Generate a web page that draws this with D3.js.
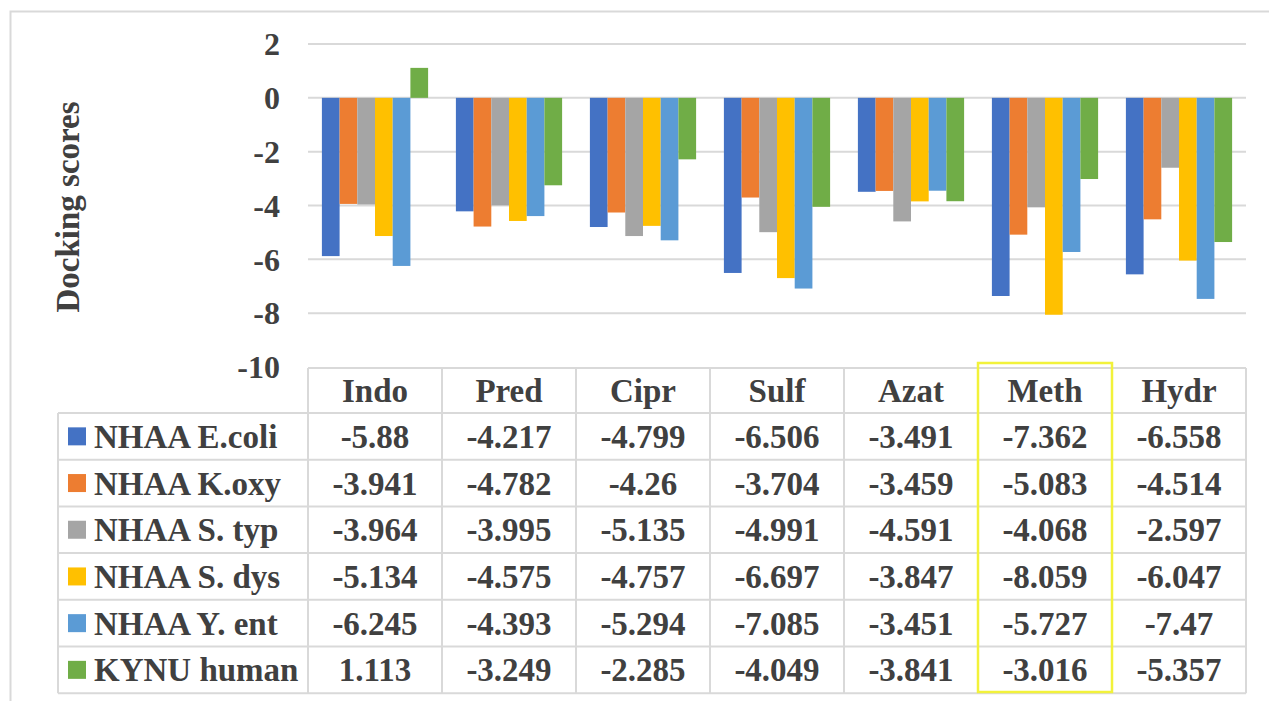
<!DOCTYPE html>
<html>
<head>
<meta charset="utf-8">
<script src="https://cdn.jsdelivr.net/npm/d3@7"></script>
<style>
  html, body { margin: 0; padding: 0; background: #ffffff; }
  svg { display: block; }
</style>
</head>
<body>
<svg id="chart" width="1269" height="701"></svg>
<script>
// Compounds (x categories)
const categories = ["Indo", "Pred", "Cipr", "Sulf", "Azat", "Meth", "Hydr"];
// Protein targets (series)
const series = ["NHAA E.coli", "NHAA K.oxy", "NHAA S. typ", "NHAA S. dys", "NHAA Y. ent", "KYNU human"];
// Docking scores per series, in category order
const ecoli = [-5.88, -4.217, -4.799, -6.506, -3.491, -7.362, -6.558];
const koxy  = [-3.941, -4.782, -4.26, -3.704, -3.459, -5.083, -4.514];
const styp  = [-3.964, -3.995, -5.135, -4.991, -4.591, -4.068, -2.597];
const sdys  = [-5.134, -4.575, -4.757, -6.697, -3.847, -8.059, -6.047];
const yent  = [-6.245, -4.393, -5.294, -7.085, -3.451, -5.727, -7.47];
const kynu  = [1.113, -3.249, -2.285, -4.049, -3.841, -3.016, -5.357];
// Printed labels exactly as shown in the data table
const ecoliLbl = ["-5.88", "-4.217", "-4.799", "-6.506", "-3.491", "-7.362", "-6.558"];
const koxyLbl  = ["-3.941", "-4.782", "-4.26", "-3.704", "-3.459", "-5.083", "-4.514"];
const stypLbl  = ["-3.964", "-3.995", "-5.135", "-4.991", "-4.591", "-4.068", "-2.597"];
const sdysLbl  = ["-5.134", "-4.575", "-4.757", "-6.697", "-3.847", "-8.059", "-6.047"];
const yentLbl  = ["-6.245", "-4.393", "-5.294", "-7.085", "-3.451", "-5.727", "-7.47"];
const kynuLbl  = ["1.113", "-3.249", "-2.285", "-4.049", "-3.841", "-3.016", "-5.357"];
const yTicks = [2, 0, -2, -4, -6, -8, -10];
const colors = ["#4472C4", "#ED7D31", "#A5A5A5", "#FFC000", "#5B9BD5", "#70AD47"];
const highlighted = "Meth";

const values = [ecoli, koxy, styp, sdys, yent, kynu];
const labels = [ecoliLbl, koxyLbl, stypLbl, sdysLbl, yentLbl, kynuLbl];

const FONT = "Liberation Serif";
const textColor = "#404040";

const svg = d3.select("#chart");
const plotLeft = 308, plotRight = 1246;

function label(sel, size) {
  return sel.attr("font-family", FONT).attr("font-weight", "bold")
    .attr("fill", textColor).attr("font-size", size || 33);
}

// Chart area frame (top and left edges visible)
svg.append("path")
  .attr("d", "M10.5,701 L10.5,11.5 L1269,11.5")
  .attr("fill", "none").attr("stroke", "#d9d9d9").attr("stroke-width", 2);

const y = d3.scaleLinear().domain([-10, 2]).range([367, 44]);
const x = d3.scaleBand().domain(categories).range([plotLeft, plotRight]).paddingInner(0).paddingOuter(0);
const xs = d3.scaleBand().domain(series).range([0, x.bandwidth()]).paddingInner(0).paddingOuter(0.785);

// Gridlines
svg.append("g").selectAll("line").data(yTicks.filter(t => t > -10)).join("line")
  .attr("x1", plotLeft).attr("x2", plotRight)
  .attr("y1", d => y(d)).attr("y2", d => y(d))
  .attr("stroke", "#d9d9d9").attr("stroke-width", 2);

// Y-axis tick labels
svg.append("g").selectAll("text").data(yTicks).join("text")
  .call(label, 32)
  .attr("x", 280).attr("y", d => y(d))
  .attr("text-anchor", "end").attr("dy", "0.35em")
  .text(d => d);

// Axis title
svg.append("text")
  .call(label, 33)
  .attr("transform", "translate(67,207) rotate(-90)")
  .attr("text-anchor", "middle").attr("dy", "0.35em")
  .text("Docking scores");

// Bars
series.forEach((s, si) => {
  svg.append("g").selectAll("rect").data(categories).join("rect")
    .attr("x", c => x(c) + xs(s))
    .attr("width", xs.bandwidth())
    .attr("y", (c, ci) => y(Math.max(0, values[si][ci])))
    .attr("height", (c, ci) => Math.abs(y(values[si][ci]) - y(0)))
    .attr("fill", colors[si]);
});

// Data table
const headTop = 368, rowTop = 413, rowH = 46.7, legLeft = 58;
const nRows = series.length;
const tableBottom = rowTop + rowH * nRows;
const tg = svg.append("g").attr("stroke", "#d9d9d9").attr("stroke-width", 2);
// header top line
tg.append("line").attr("x1", plotLeft).attr("x2", plotRight).attr("y1", headTop).attr("y2", headTop);
// row lines
d3.range(nRows + 1).forEach(i => {
  tg.append("line").attr("x1", legLeft).attr("x2", plotRight)
    .attr("y1", rowTop + i * rowH).attr("y2", rowTop + i * rowH);
});
// column lines
categories.forEach(c => {
  tg.append("line").attr("x1", x(c)).attr("x2", x(c)).attr("y1", headTop).attr("y2", tableBottom);
});
tg.append("line").attr("x1", plotRight).attr("x2", plotRight).attr("y1", headTop).attr("y2", tableBottom);
tg.append("line").attr("x1", legLeft).attr("x2", legLeft).attr("y1", rowTop).attr("y2", tableBottom);

// Header labels
svg.append("g").selectAll("text").data(categories).join("text")
  .call(label, 33)
  .attr("x", c => x(c) + x.bandwidth() / 2)
  .attr("y", (headTop + rowTop) / 2)
  .attr("text-anchor", "middle").attr("dy", "0.35em")
  .text(c => c);

// Legend keys and series names, then the values of each row
series.forEach((s, si) => {
  const cy = rowTop + rowH * (si + 0.5);
  svg.append("rect").attr("x", 68).attr("y", cy - 9).attr("width", 18).attr("height", 18)
    .attr("fill", colors[si]);
  svg.append("text").call(label, 33)
    .attr("x", 94).attr("y", cy).attr("dy", "0.35em")
    .text(s);
  svg.append("g").selectAll("text").data(categories).join("text")
    .call(label, 33)
    .attr("x", c => x(c) + x.bandwidth() / 2)
    .attr("y", cy).attr("dy", "0.35em")
    .attr("text-anchor", "middle")
    .text((c, ci) => labels[si][ci]);
});

// Highlight box around one compound column
svg.append("rect")
  .attr("x", x(highlighted)).attr("y", 363)
  .attr("width", x.bandwidth()).attr("height", 692 - 363)
  .attr("fill", "none").attr("stroke", "#f2f23a").attr("stroke-width", 2.5);
</script>
</body>
</html>
